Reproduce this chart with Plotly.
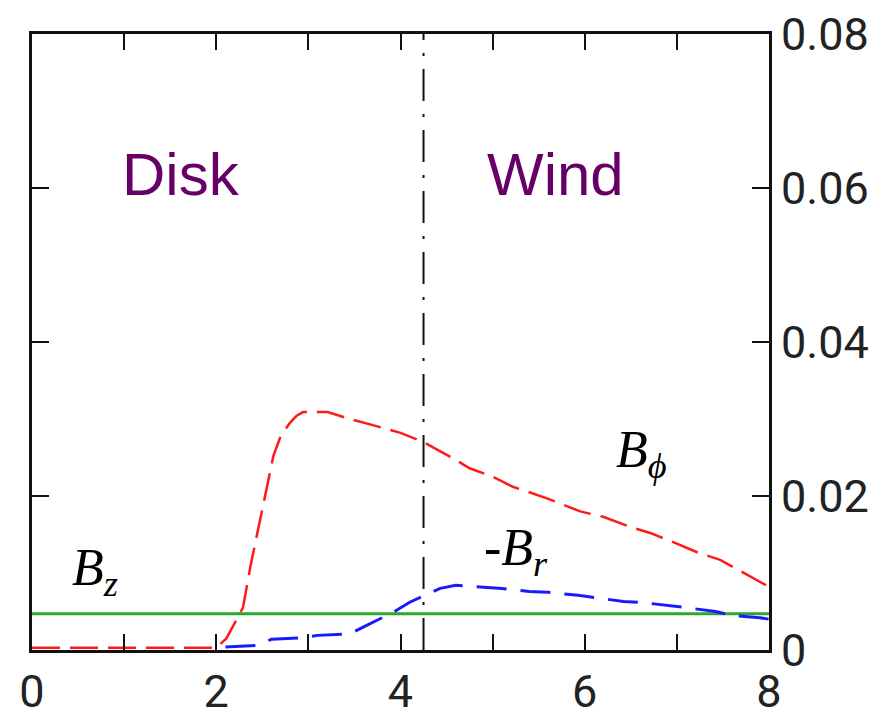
import plotly.graph_objects as go

# ---- data ----
bphi_x = [0.0, 0.5, 1.0, 1.5, 2.0, 2.11, 2.29, 2.37, 2.46, 2.55, 2.62, 2.70, 2.80, 2.87, 2.94,
          3.21, 3.45, 3.70, 4.0, 4.25, 4.57, 4.75, 5.0, 5.22, 5.59, 5.95, 6.2, 6.49, 6.71,
          6.96, 7.22, 7.47, 7.72, 8.0]
bphi_y = [0.0003, 0.0003, 0.0003, 0.0003, 0.0003, 0.0015, 0.0055, 0.0108, 0.016, 0.0212,
          0.0252, 0.0278, 0.0295, 0.0304, 0.0309, 0.0309, 0.0300, 0.0292, 0.0282, 0.0270,
          0.0249, 0.0236, 0.0225, 0.0212, 0.0197, 0.0180, 0.0173, 0.0160, 0.0152, 0.0140,
          0.0127, 0.0117, 0.0101, 0.0082]

br_x = [2.1, 2.45, 2.6, 2.95, 3.1, 3.45, 3.6, 3.92, 4.1, 4.43, 4.6, 4.9, 5.1, 5.4, 5.6,
        5.93, 6.1, 6.42, 6.6, 6.93, 7.1, 7.42, 7.6, 7.9, 8.0]
br_y = [0.0004, 0.0006, 0.0014, 0.0016, 0.0019, 0.0021, 0.0030, 0.0049, 0.0062, 0.0080,
        0.0084, 0.0082, 0.0080, 0.0076, 0.0075, 0.0071, 0.0068, 0.0063, 0.0062, 0.0058,
        0.0055, 0.0050, 0.0045, 0.0042, 0.0040]

bz_x = [0.0, 8.0]
bz_y = [0.0047, 0.0047]

boundary_x = 4.25
y_range = [0.0, 0.08]
x_range = [0.0, 8.0]

x_tickvals = [0, 2, 4, 6, 8]
x_ticktext = ["0", "2", "4", "6", "8"]
y_tickvals = [0.0, 0.02, 0.04, 0.06, 0.08]
y_ticktext = ["0", "0.02", "0.04", "0.06", "0.08"]

fig = go.Figure()

fig.add_trace(go.Scatter(x=bz_x, y=bz_y, mode="lines",
                         line=dict(color="#2aa82a", width=3), showlegend=False))
fig.add_trace(go.Scatter(x=bphi_x, y=bphi_y, mode="lines",
                         line=dict(color="#ff1a1a", width=2.5, dash="28px,10px"),
                         showlegend=False))
fig.add_trace(go.Scatter(x=br_x, y=br_y, mode="lines",
                         line=dict(color="#1a1aff", width=3, dash="30px,14px"),
                         showlegend=False))
fig.add_trace(go.Scatter(x=[boundary_x, boundary_x], y=y_range, mode="lines",
                         line=dict(color="#111111", width=2, dash="32px,13px,3px,13px"),
                         showlegend=False))

label_font = dict(family="Liberation Serif, Times New Roman, serif", size=52, color="black")
region_font = dict(family="Liberation Sans, Arial, sans-serif", size=60, color="#660066")

annotations = [
    dict(x=1.62, y=0.0617, text="Disk", font=region_font),
    dict(x=5.68, y=0.0617, text="Wind", font=region_font),
    dict(x=6.62, y=0.0255, text="<i>B</i><sub><i>ϕ</i></sub>", font=label_font),
    dict(x=5.25, y=0.0128, text="<i>-B</i><sub><i>r</i></sub>", font=label_font),
    dict(x=0.68, y=0.0102, text="<i>B</i><sub><i>z</i></sub>", font=label_font),
]
for a in annotations:
    a.update(xref="x", yref="y", showarrow=False)

tick_font = dict(family="Roboto, sans-serif", size=45, color="#222222")

fig.update_layout(
    width=888, height=717,
    margin=dict(l=32, r=119, t=34, b=67),
    paper_bgcolor="white", plot_bgcolor="white",
    annotations=annotations,
    xaxis=dict(range=x_range, tickvals=x_tickvals, ticktext=x_ticktext,
               ticks="inside", ticklen=16, tickwidth=2, tickcolor="#111",
               minor=dict(dtick=1, ticks="inside", ticklen=16, tickwidth=2, tickcolor="#111"),
               showline=True, linecolor="#111", linewidth=3, mirror="allticks",
               showgrid=False, zeroline=False, tickfont=tick_font, automargin=False),
    yaxis=dict(range=y_range, tickvals=y_tickvals, ticktext=y_ticktext, side="right",
               ticks="inside", ticklen=17, tickwidth=2, tickcolor="#111",
               showline=True, linecolor="#111", linewidth=3, mirror="allticks",
               showgrid=False, zeroline=False, tickfont=tick_font, automargin=False),
)

fig.write_html("out.html")
